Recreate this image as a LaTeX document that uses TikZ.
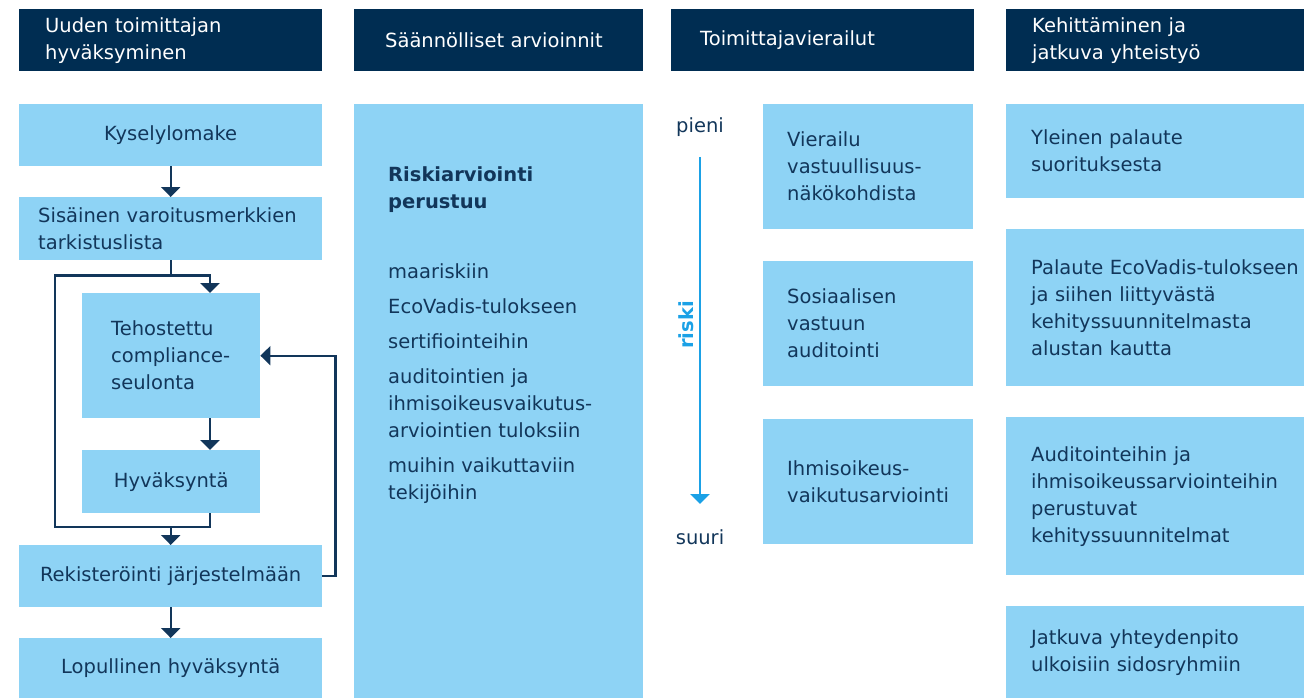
\documentclass[tikz,border=0pt]{standalone}
\usepackage{fontspec}
\setmainfont{DejaVu Sans}
\usetikzlibrary{arrows.meta}
\definecolor{headnavy}{HTML}{002D52}
\definecolor{cellblue}{HTML}{8ED3F5}
\definecolor{ink}{HTML}{12365A}
\definecolor{riskblue}{HTML}{1BA1E6}
\newcommand{\bodysize}{\fontsize{19.5}{27}\selectfont}
\hyphenpenalty=10000

\begin{document}
\begin{tikzpicture}[x=1pt, y=-1pt, font=\bodysize,
	head/.style={fill=headnavy, text=white, anchor=north west, inner sep=0pt, minimum height=62pt, align=left},
	cell/.style={fill=cellblue, text=ink, anchor=north west, inner sep=0pt, align=left},
	lpad/.style={execute at begin node={\leftskip=#1pt}},
	link/.style={draw=ink, line width=2.4pt},
	flow/.style={link, -{Triangle[width=19pt, length=10pt]}},
	riskflow/.style={draw=riskblue, line width=2.6pt, -{Triangle[width=19pt, length=10pt]}}]
	\useasboundingbox (0,0) rectangle (1304,698);
	% headers
	\node[head, text width=303pt, lpad=26] (h1) at (19,9) {Uuden toimittajan\\hyväksyminen};
	\node[head, text width=289pt, lpad=31] (h2) at (354,9) {Säännölliset arvioinnit};
	\node[head, text width=303pt, lpad=29] (h3) at (671,9) {Toimittajavierailut};
	\node[head, text width=298pt, lpad=26] (h4) at (1006,9) {Kehittäminen ja\\jatkuva yhteistyö};
	% uuden toimittajan hyvaksyminen
	\node[cell, align=center, text width=303pt, minimum height=62pt] (kysely) at (19,104) {Kyselylomake};
	\node[cell, text width=303pt, minimum height=63pt, lpad=19] (sisainen) at (19,197) {Sisäinen varoitusmerkkien\\tarkistuslista};
	\node[cell, text width=178pt, minimum height=125pt, lpad=29] (teho) at (82,293) {Tehostettu\\compliance-\\seulonta};
	\node[cell, align=center, text width=178pt, minimum height=63pt] (hyv) at (82,450) {Hyväksyntä};
	\node[cell, align=center, text width=303pt, minimum height=62pt] (rek) at (19,545) {Rekisteröinti järjestelmään};
	\node[cell, align=center, text width=303pt, minimum height=60pt] (lopullinen) at (19,638) {Lopullinen hyväksyntä};
	\coordinate (tap) at (210,0);
	\coordinate (loopcorner) at (55,527);
	\draw[flow] (kysely) -- (sisainen);
	\draw[link] (sisainen.south) -- ++(0,15) coordinate (split);
	\draw[flow] (split) -| (teho.north -| tap);
	\draw[link] (split) -| (loopcorner) -- (loopcorner -| tap) -- (hyv.south -| tap);
	\draw[flow] (teho.south -| tap) -- (hyv.north -| tap);
	\draw[flow] (loopcorner -| rek.north) -- (rek.north);
	\draw[flow] (rek.east) -- ++(13,0) |- (teho.east);
	\draw[flow] (rek) -- (lopullinen);
	% saannolliset arvioinnit
	\node[cell, text width=289pt, minimum height=594pt] (arviot) at (354,104) {};
	\node[anchor=north west, inner sep=0pt, text=ink, align=left, font=\bodysize\bfseries] (perustuu) at (388,166) {Riskiarviointi\\perustuu};
	\node[anchor=north west, inner sep=0pt, text=ink, align=left] (tekijat) at (388,263)
	  {maariskiin\\[8pt]EcoVadis-tulokseen\\[8pt]sertifiointeihin\\[8pt]auditointien ja\\ihmisoikeusvaikutus-\\arviointien tuloksiin\\[8pt]muihin vaikuttaviin\\tekijöihin};
	% toimittajavierailut
	\node[text=ink] (pieni) at (700,127) {pieni};
	\node[text=ink] (suuri) at (700,537) {suuri};
	\draw[riskflow] ([yshift=-30pt]pieni.center) -- ([yshift=33pt]suuri.center);
	\node[text=riskblue, font=\bodysize\bfseries, rotate=90] (riski) at (686,325) {riski};
	\node[cell, text width=210pt, minimum height=125pt, lpad=24] (vierailu) at (763,104) {Vierailu\\vastuullisuus-\\näkökohdista};
	\node[cell, text width=210pt, minimum height=125pt, lpad=24] (sosiaalinen) at (763,261) {Sosiaalisen\\vastuun\\auditointi};
	\node[cell, text width=210pt, minimum height=125pt, lpad=24] (ihmisoikeus) at (763,419) {Ihmisoikeus-\\vaikutusarviointi};
	% kehittaminen ja jatkuva yhteistyo
	\node[cell, text width=298pt, minimum height=94pt, lpad=25] (yleinen) at (1006,104) {Yleinen palaute\\suorituksesta};
	\node[cell, text width=298pt, minimum height=157pt, lpad=25] (ecovadis) at (1006,229) {Palaute EcoVadis-tulokseen\\ja siihen liittyvästä\\kehityssuunnitelmasta\\alustan kautta};
	\node[cell, text width=298pt, minimum height=158pt, lpad=25] (auditointi) at (1006,417) {Auditointeihin ja\\ihmisoikeussarviointeihin\\perustuvat\\kehityssuunnitelmat};
	\node[cell, text width=298pt, minimum height=92pt, lpad=25] (yhteys) at (1006,606) {Jatkuva yhteydenpito\\ulkoisiin sidosryhmiin};
\end{tikzpicture}
\end{document}
